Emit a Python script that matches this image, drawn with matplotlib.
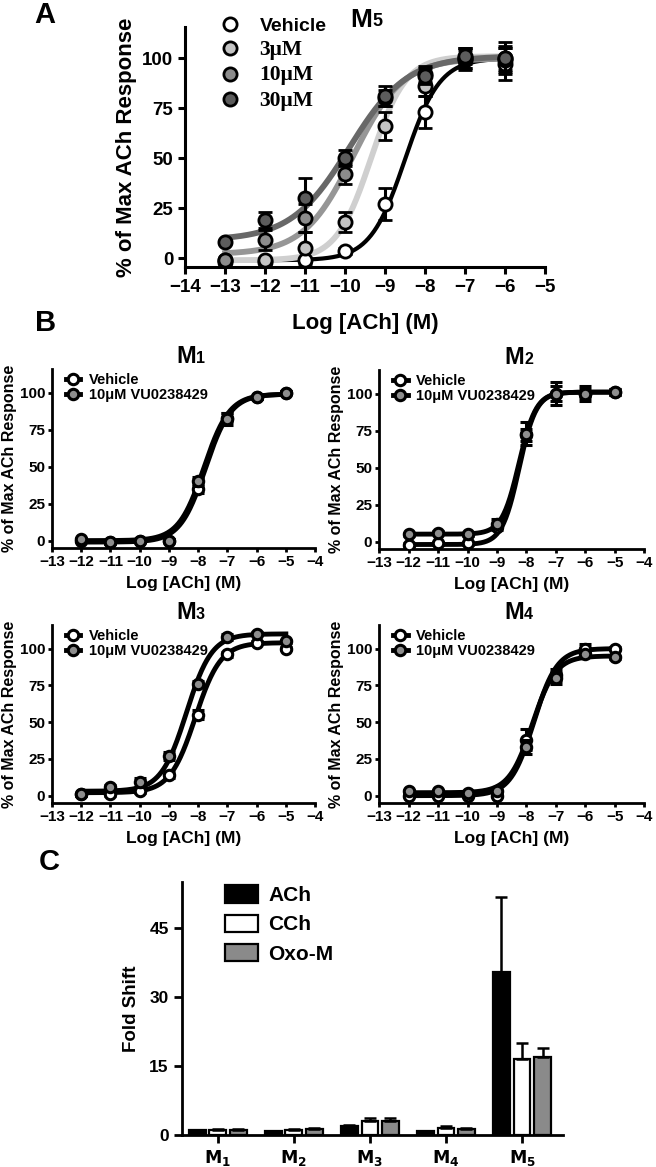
import numpy as np
import matplotlib
matplotlib.use('Agg')
import matplotlib.pyplot as plt
from matplotlib.lines import Line2D

plt.rcParams['font.family'] = ['Liberation Sans', 'DejaVu Sans']
plt.rcParams['font.weight'] = 'bold'
plt.rcParams['axes.labelweight'] = 'bold'

# ---- panel A data (M5) ----
a_x = [-13, -12, -11, -10, -9, -8, -7, -6]
a_labels = ['Vehicle', '3\u03bcM', '10\u03bcM', '30\u03bcM']
a_y = [
    [-2, -2, -1, 3.5, 27, 73, 99, 97],
    [-1, -1, 5, 18, 66, 86, 100, 100],
    [-1, 9, 20, 42, 80, 92, 100, 99],
    [8, 19, 30, 50, 81, 91, 101, 100],
]
a_err = [
    [1, 1, 1, 1.5, 8, 8, 5, 8],
    [1, 1, 8, 5, 7, 5, 5, 6],
    [1, 5, 7, 5, 4, 4, 5, 6],
    [1, 4, 10, 4, 5, 4, 4, 8],
]
# fitted curve parameters: bottom, top, logEC50, hill
a_fit = [
    [-1, 100, -8.5, 1.0],
    [-1, 101, -9.35, 1.0],
    [2, 100, -9.8, 0.7],
    [9, 101, -9.9, 0.6],
]
a_fill = ['white', '#c4c4c4', '#8c8c8c', '#5c5c5c']
a_line = ['black', '#cfcfcf', '#969696', '#686868']

# ---- panel B data ----
b_x = [-12, -11, -10, -9, -8, -7, -6, -5]
b_names = ['1', '2', '3', '4']
b_veh = [
    [0, -1, 0, 0, 35, 83, 97, 100],
    [-2, -1, -1, 10, 72, 100, 100, 101],
    [1, 1, 3, 14, 55, 96, 104, 100],
    [0, 0, 0, 0, 38, 82, 100, 100],
]
b_vu = [
    [1, -1, 0, 0, 40, 82, 97, 100],
    [5, 6, 5, 12, 73, 100, 100, 101],
    [1, 6, 9, 27, 76, 108, 110, 105],
    [3, 3, 2, 3, 33, 80, 96, 94],
]
b_veh_err = [
    [1, 1, 1, 1, 3, 3, 1, 1],
    [1, 1, 1, 2, 4, 5, 3, 2],
    [1, 1, 1, 2, 3, 2, 1, 1],
    [1, 1, 1, 1, 7, 4, 3, 1],
]
b_vu_err = [
    [1, 1, 1, 1, 3, 4, 1, 1],
    [1, 1, 1, 3, 8, 8, 5, 2],
    [1, 1, 3, 3, 2, 2, 1, 1],
    [1, 1, 1, 1, 5, 4, 2, 1],
]
b_veh_fit = [
    [-1, 99, -7.75, 1.0],
    [-2, 101, -8.25, 1.5],
    [2, 104, -8.1, 1.0],
    [0, 100, -7.75, 1.1],
]
b_vu_fit = [
    [0, 99, -7.8, 1.0],
    [5, 101, -8.25, 1.5],
    [3, 110, -8.4, 1.0],
    [2, 95, -7.8, 1.1],
]

# ---- panel C data ----
c_groups = ['1', '2', '3', '4', '5']
c_series = ['ACh', 'CCh', 'Oxo-M']
c_vals = [
    [1.1, 0.8, 2.0, 0.8, 35.5],
    [1.2, 1.2, 3.0, 1.6, 16.5],
    [1.1, 1.4, 3.0, 1.3, 17.0],
]
c_err = [
    [0.1, 0.1, 0.2, 0.1, 16.2],
    [0.2, 0.2, 0.6, 0.4, 3.5],
    [0.2, 0.2, 0.6, 0.3, 2.0],
]
c_colors = ['black', 'white', '#8a8a8a']


def hill(x, p):
    bot, top, ec, h = p
    return bot + (top - bot) / (1 + 10 ** ((ec - x) * h))


def style(ax, lw=2.2):
    for s in ['top', 'right']:
        ax.spines[s].set_visible(False)
    for s in ['left', 'bottom']:
        ax.spines[s].set_linewidth(lw)
    ax.tick_params(width=lw, length=5)


def mtitle(ax, num, x, y, size):
    t = ax.text(x, y, 'M', transform=ax.transAxes, fontsize=size,
                fontweight='bold', ha='center', va='center')
    ax.annotate(num, xy=(1, 0.08), xycoords=t, fontsize=size * 0.68,
                fontweight='bold', va='bottom', ha='left')


fig = plt.figure(figsize=(6.56, 11.67), dpi=100)

# ---------------- panel A ----------------
ax = fig.add_axes([0.282, 0.771, 0.549, 0.2057])
xs = np.linspace(-13, -6, 300)
for i in [3, 2, 1, 0]:
    ax.plot(xs, hill(xs, a_fit[i]), color=a_line[i],
            lw=3.0 if i == 0 else 4.2, zorder=2 + i * 0.1)
for i in [3, 2, 1, 0]:
    ax.errorbar(a_x, a_y[i], yerr=a_err[i], fmt='o', ms=9.5, mfc=a_fill[i],
                mec='black', mew=2.0, ecolor='black', elinewidth=2.2,
                capsize=5, capthick=2.2, zorder=4 + i * 0.1)
ax.set_xlim(-14, -5)
ax.set_ylim(-4.5, 115.5)
ax.set_xticks(range(-14, -4))
ax.set_yticks([0, 25, 50, 75, 100])
ax.tick_params(labelsize=13.5)
style(ax)
ax.set_xlabel('Log [ACh] (M)', fontsize=16, labelpad=12)
ax.set_ylabel('% of Max ACh Response', fontsize=16, labelpad=4)
mtitle(ax, '5', 0.49, 1.03, 19)
handles = [Line2D([], [], marker='o', ls='none', ms=9.5, mfc=a_fill[i],
                  mec='black', mew=2.0) for i in range(4)]
leg = ax.legend(handles, a_labels, loc='upper left',
                bbox_to_anchor=(0.05, 1.075), frameon=False, fontsize=14,
                handletextpad=0.5, labelspacing=0.28, borderaxespad=0)
for k, t in enumerate(leg.get_texts()):
    if k > 0:
        t.set_family('Liberation Serif')
        t.set_fontsize(15.5)

# ---------------- panel B ----------------
b_pos = [
    [0.0793, 0.5304, 0.401, 0.1534],
    [0.578, 0.5296, 0.404, 0.1534],
    [0.0793, 0.3119, 0.401, 0.1525],
    [0.578, 0.3119, 0.404, 0.1525],
]
xs = np.linspace(-12, -5, 300)
for j in range(4):
    ax = fig.add_axes(b_pos[j])
    ax.plot(xs, hill(xs, b_veh_fit[j]), color='black', lw=3.5, zorder=2)
    ax.plot(xs, hill(xs, b_vu_fit[j]), color='black', lw=3.5, zorder=2)
    ax.errorbar(b_x, b_veh[j], yerr=b_veh_err[j], fmt='o', ms=7.5, mfc='white',
                mec='black', mew=2.2, ecolor='black', elinewidth=2.2,
                capsize=4, capthick=2.5, zorder=4)
    ax.errorbar(b_x, b_vu[j], yerr=b_vu_err[j], fmt='o', ms=7.5, mfc='#8e8e8e',
                mec='black', mew=2.2, ecolor='black', elinewidth=2.2,
                capsize=4, capthick=2.5, zorder=5)
    ax.set_xlim(-13, -4)
    ax.set_ylim(-5, 116)
    ax.set_xticks(range(-13, -3))
    ax.set_yticks([0, 25, 50, 75, 100])
    ax.tick_params(labelsize=11, pad=2)
    style(ax, 2.0)
    ax.tick_params(length=3)
    ax.set_xlabel('Log [ACh] (M)', fontsize=12.5, labelpad=5)
    ax.set_ylabel('% of Max ACh Response', fontsize=11.5, labelpad=2)
    mtitle(ax, b_names[j], 0.51, 1.07, 17)
    hb = [Line2D([], [], marker='o', color='black', lw=3.5, ms=7.5,
                 mfc=c, mec='black', mew=2.2) for c in ['white', '#8e8e8e']]
    ax.legend(hb, ['Vehicle', '10\u03bcM VU0238429'], loc='upper left',
              bbox_to_anchor=(0.03, 1.01), frameon=False, fontsize=10.5,
              handlelength=1.0, handletextpad=0.6, labelspacing=0.05,
              borderaxespad=0)

# ---------------- panel C ----------------
ax = fig.add_axes([0.2774, 0.0274, 0.581, 0.2168])
gx = np.arange(len(c_groups))
w = 0.22
for k in range(3):
    ax.bar(gx + (k - 1) * 0.27, c_vals[k], w, color=c_colors[k],
           edgecolor='black', lw=1.6, zorder=3,
           yerr=[np.zeros(5), c_err[k]],
           error_kw=dict(elinewidth=1.8, capsize=4, capthick=1.8, ecolor='black'),
           label=c_series[k])
ax.set_xlim(-0.47, 4.54)
ax.set_ylim(0, 55)
ax.set_yticks([0, 15, 30, 45])
ax.set_xticks(gx)
ax.set_xticklabels(['$\\mathbf{M_{%s}}$' % g for g in c_groups])
ax.tick_params(labelsize=12.5)
style(ax, 2.0)
ax.tick_params(length=6)
ax.set_ylabel('Fold Shift', fontsize=13.5, labelpad=7)
ax.legend(loc='upper left', bbox_to_anchor=(0.09, 1.02), frameon=False,
          fontsize=15, handlelength=1.6, handleheight=0.9,
          handletextpad=0.5, labelspacing=0.45, borderaxespad=0)

# panel letters
fig.text(0.068, 0.987, 'A', fontsize=21, fontweight='bold', ha='center', va='center')
fig.text(0.07, 0.723, 'B', fontsize=21, fontweight='bold', ha='center', va='center')
fig.text(0.075, 0.261, 'C', fontsize=21, fontweight='bold', ha='center', va='center')

fig.savefig('out.png', dpi=100)
